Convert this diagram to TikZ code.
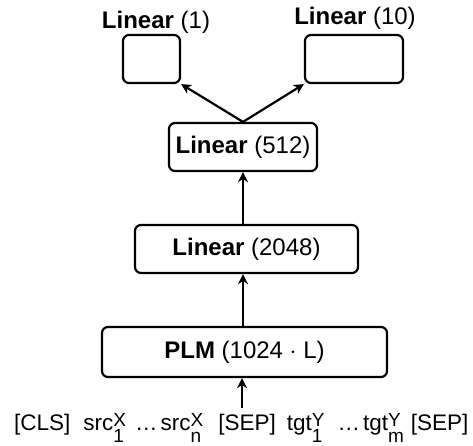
\documentclass[tikz,border=0pt]{standalone}
\usepackage{fontspec}
\setmainfont{Liberation Sans}
\usetikzlibrary{arrows.meta}

% token with stacked superscript and subscript
\newcommand{\tokscr}[3]{#1{\fontsize{19}{19}\selectfont\ooalign{\raisebox{4pt}{#2}\cr\raisebox{-12pt}{#3}\cr}}}

\begin{document}
\begin{tikzpicture}[x=1pt,y=1pt,yscale=-1,xscale=1,
    layerbox/.style={draw,line width=2.2pt,rounded corners=6pt,minimum height=48pt,inner sep=0pt,font=\fontsize{24}{28}\selectfont},
    layerlabel/.style={inner sep=0pt,anchor=base,font=\fontsize{24}{28}\selectfont},
    flow/.style={line width=2.2pt,-{Stealth[length=10pt,width=10pt,inset=3pt]}}]
        \useasboundingbox (0,0) rectangle (473,446);

        % Heads
        \node [layerbox,minimum width=57pt] (headone) at (151.5,59) {};
        \node [layerbox,minimum width=98pt] (headten) at (354,59) {};
        % Text Node
        \node [layerlabel] (headonelbl) at (156,29) {\textbf{Linear} (1)};
        % Text Node
        \node [layerlabel] (headtenlbl) at (355,25) {\textbf{Linear} (10)};

        % Hidden layers
        \node [layerbox,minimum width=148pt] (lin512) at (243,147) {\textbf{Linear} (512)};
        \node [layerbox,minimum width=223pt] (lin2048) at (246.5,249) {\textbf{Linear} (2048)};
        \node [layerbox,minimum width=285pt,minimum height=50pt] (plm) at (244.5,352) {\textbf{PLM} (1024 $\cdot$ L)};

        % Input tokens
        \node [inner sep=0pt,anchor=base west,font=\fontsize{22.5}{26}\selectfont] (tokens) at (14,430)
            {[CLS]\hspace{13pt}\tokscr{src}{X}{1}\hspace{9pt}…\hspace{3pt}\tokscr{src}{X}{n}\hspace{15pt}[SEP]\hspace{11pt}\tokscr{tgt}{Y}{1}\hspace{13pt}…\hspace{3pt}\tokscr{tgt}{Y}{m}\hspace{7pt}[SEP]};
        \coordinate (tokin) at (242,408);

        % Connectors
        \draw [flow] (tokin) -- (plm.south -| tokin);
        \draw [flow] (plm.north -| lin512) -- (lin2048.south -| lin512);
        \draw [flow] (lin2048.north -| lin512) -- (lin512.south);
        \draw [flow] (lin512.north) -- (headone.south east);
        \draw [flow] (lin512.north) -- (headten.south west);

    \end{tikzpicture}
\end{document}
